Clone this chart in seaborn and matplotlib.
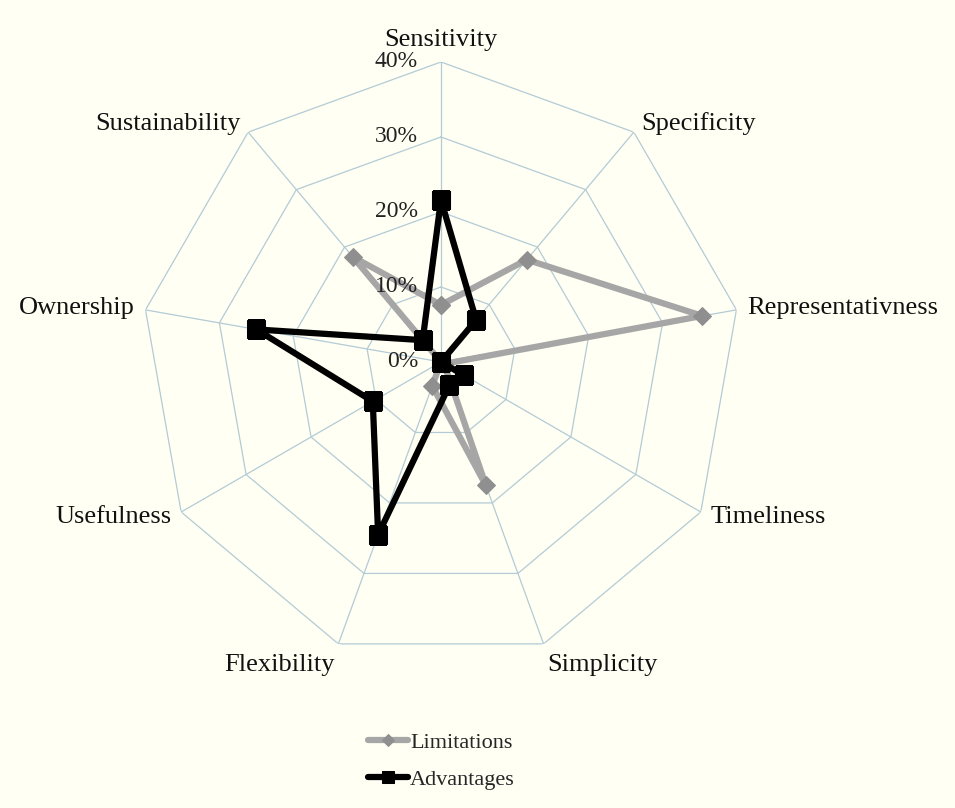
import numpy as np
import pandas as pd
import matplotlib
matplotlib.use("Agg")
import matplotlib.pyplot as plt
import seaborn as sns

# Datos
categorias = ['Sensitivity', 'Specificity', 'Representativness', 'Timeliness',
              'Simplicity', 'Flexibility', 'Usefulness', 'Ownership', 'Sustainability']
limitaciones = [0.076, 0.178, 0.354, 0.005, 0.175, 0.034, 0.0, 0.0, 0.183]
ventajas = [0.216, 0.073, 0.0, 0.036, 0.033, 0.245, 0.105, 0.25, 0.038]
niveles = [0.0, 0.1, 0.2, 0.3, 0.4]
etiquetas_niveles = ['0%', '10%', '20%', '30%', '40%']

sns.set_style('white')
plt.rcParams['font.family'] = ['Liberation Serif', 'DejaVu Serif']

fondo = '#fffff3'
rejilla = '#b3cbd6'

n = len(categorias)
angulos = np.linspace(0, 2 * np.pi, n, endpoint=False)
ang_cerrado = np.append(angulos, angulos[0])

df = pd.DataFrame({
    'theta': np.concatenate([ang_cerrado, ang_cerrado]),
    'valor': limitaciones + limitaciones[:1] + ventajas + ventajas[:1],
    'serie': ['Limitations'] * (n + 1) + ['Advantages'] * (n + 1),
})

fig = plt.figure(figsize=(9.55, 8.08), dpi=100, facecolor=fondo)
ax = fig.add_axes([0.1476, 0.1807, 0.6283, 0.7426], projection='polar')
ax.set_facecolor(fondo)
ax.set_theta_offset(np.pi / 2)
ax.set_theta_direction(-1)
ax.set_ylim(0, 0.40)
ax.grid(False)
ax.spines['polar'].set_visible(False)
ax.set_xticks([])
ax.set_yticks([])

# Rejilla poligonal
for r in niveles[1:]:
    ax.plot(ang_cerrado, [r] * (n + 1), color=rejilla, lw=0.9, zorder=1)
for a in angulos:
    ax.plot([a, a], [0, niveles[-1]], color=rejilla, lw=0.9, zorder=1)

# Series
lim = df[df['serie'] == 'Limitations']
adv = df[df['serie'] == 'Advantages']
sns.lineplot(data=lim, x='theta', y='valor', ax=ax, sort=False, estimator=None,
             color='#a6a6a6', lw=4.5, marker='D', markersize=9,
             markerfacecolor='#8f8f8f', markeredgecolor='#8f8f8f',
             label='Limitations', zorder=3)
sns.lineplot(data=adv, x='theta', y='valor', ax=ax, sort=False, estimator=None,
             color='black', lw=4.5, marker='s', markersize=13,
             markerfacecolor='black', markeredgecolor='black',
             label='Advantages', zorder=4)

# Etiquetas de niveles
for r, t in zip(niveles, etiquetas_niveles):
    ax.annotate(t, xy=(0, r), xytext=(-23, 0), textcoords='offset pixels',
                ha='right', va='center', fontsize=17, color='#222222', zorder=5)

# Etiquetas de categorías
for a, cat in zip(angulos, categorias):
    dx = np.sin(a)
    dy = np.cos(a)
    if dx > 0.1:
        ha = 'left'
    elif dx < -0.1:
        ha = 'right'
    else:
        ha = 'center'
    if dy > 0.95:
        va = 'bottom'
    elif dy < -0.8:
        va = 'top'
    else:
        va = 'center'
    ax.annotate(cat, xy=(a, niveles[-1]), xytext=(11 * dx, 11 * dy),
                textcoords='offset pixels', ha=ha, va=va, fontsize=19,
                color='#111111', annotation_clip=False)

leg = ax.legend(loc='center', bbox_to_anchor=(0.462, 0.058),
                bbox_transform=fig.transFigure, frameon=False, fontsize=16,
                handlelength=1.8, handletextpad=0.1, labelspacing=0.75,
                markerscale=0.65)

fig.savefig('out.png', dpi=100, facecolor=fondo)
